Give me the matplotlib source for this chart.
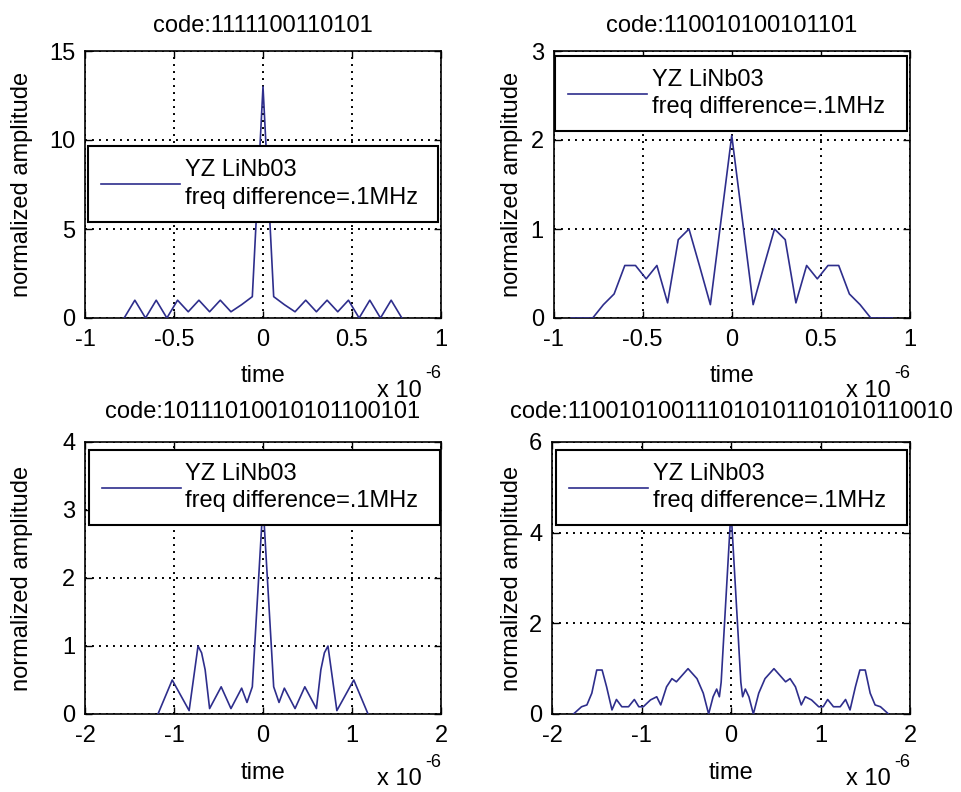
import matplotlib
matplotlib.use('Agg')
import numpy as np
import matplotlib.pyplot as plt
from matplotlib.ticker import FixedLocator, FuncFormatter
from matplotlib.transforms import offset_copy

plt.rcParams['font.family'] = ['Liberation Sans', 'DejaVu Sans']

# ---------------- data (time in microseconds) ----------------
titles = ['code:1111100110101',
          'code:110010100101101',
          'code:10111010010101100101',
          'code:110010100111010101101010110010']
legend_label = 'YZ LiNb03\nfreq difference=.1MHz'
x_label = 'time'
y_label = 'normalized amplitude'

t1 = [-0.78, -0.72, -0.66, -0.60, -0.54, -0.48, -0.42, -0.36, -0.30, -0.24, -0.18, -0.12, -0.06,
      0.0, 0.06, 0.12, 0.18, 0.24, 0.30, 0.36, 0.42, 0.48, 0.54, 0.60, 0.66, 0.72, 0.78]
a1 = [0, 1, 0, 1, 0, 1, 0.35, 1, 0.35, 1, 0.35, 0.75, 1.2,
      13, 1.2, 0.75, 0.35, 1, 0.35, 1, 0.35, 1, 0, 1, 0, 1, 0]

t2 = [-0.90, -0.84, -0.78, -0.72, -0.66, -0.60, -0.54, -0.48, -0.42, -0.36, -0.30, -0.24, -0.18, -0.12, -0.06,
      0.0, 0.06, 0.12, 0.18, 0.24, 0.30, 0.36, 0.42, 0.48, 0.54, 0.60, 0.66, 0.72, 0.78, 0.84, 0.90]
a2 = [0, 0, 0, 0.15, 0.27, 0.59, 0.59, 0.44, 0.59, 0.17, 0.88, 1.0, 0.58, 0.15, 1.1,
      2.05, 1.1, 0.15, 0.58, 1.0, 0.88, 0.17, 0.59, 0.44, 0.59, 0.59, 0.27, 0.15, 0, 0, 0]

t3 = [-1.18, -1.02, -0.83, -0.73, -0.69, -0.65, -0.60, -0.47, -0.36, -0.24, -0.18, -0.12,
      0.0, 0.12, 0.18, 0.24, 0.36, 0.47, 0.60, 0.65, 0.69, 0.73, 0.83, 1.02, 1.18]
a3 = [0, 0.5, 0.05, 1.0, 0.9, 0.65, 0.08, 0.4, 0.08, 0.38, 0.17, 0.4,
      3.1, 0.4, 0.17, 0.38, 0.08, 0.4, 0.08, 0.65, 0.9, 1.0, 0.05, 0.5, 0]

t4 = [-1.76, -1.67, -1.61, -1.555, -1.50, -1.44, -1.39, -1.33, -1.28, -1.22, -1.145, -1.08, -1.03,
      -0.98, -0.90, -0.83, -0.785, -0.72, -0.66, -0.61, -0.48, -0.38, -0.31, -0.25, -0.20, -0.16,
      -0.13, -0.11, 0.0, 0.11, 0.13, 0.16, 0.20, 0.25, 0.31, 0.38, 0.48, 0.61, 0.66, 0.72, 0.785,
      0.83, 0.90, 0.98, 1.03, 1.08, 1.145, 1.22, 1.28, 1.33, 1.39, 1.44, 1.50, 1.555, 1.61, 1.67, 1.76]
a4 = [0, 0.16, 0.2, 0.46, 0.97, 0.97, 0.6, 0.09, 0.32, 0.16, 0.16, 0.32, 0.16,
      0.16, 0.31, 0.38, 0.2, 0.6, 0.78, 0.71, 1.0, 0.78, 0.46, 0.0, 0.38, 0.55,
      0.38, 0.7, 4.5, 0.7, 0.38, 0.55, 0.38, 0.0, 0.46, 0.78, 1.0, 0.71, 0.78, 0.6, 0.2,
      0.38, 0.31, 0.16, 0.16, 0.32, 0.16, 0.16, 0.32, 0.09, 0.6, 0.97, 0.97, 0.46, 0.2, 0.16, 0]

xticks_top = [-1, -0.5, 0, 0.5, 1]
xticks_bottom = [-2, -1, 0, 1, 2]
yticks = [[0, 5, 10, 15], [0, 1, 2, 3], [0, 1, 2, 3, 4], [0, 2, 4, 6]]

series = [(t1, a1), (t2, a2), (t3, a3), (t4, a4)]
xticks_all = [xticks_top, xticks_top, xticks_bottom, xticks_bottom]

# ---------------- layout ----------------
W, H = 961, 792
fig = plt.figure(figsize=(W / 100, H / 100), dpi=100, facecolor='white')

def rect(l, t, r, b):
    return [l / W, 1 - b / H, (r - l) / W, (b - t) / H]

ax_rects = [rect(85, 51, 441, 318), rect(553.5, 51, 910, 318),
            rect(85, 442, 441, 714), rect(552, 442, 910, 714)]
# legend: (x0, ycenter, width) in axes fraction
leg_pos = [(0.008, 0.502, 0.984), (0.004, 0.840, 0.988),
           (0.010, 0.833, 0.987), (0.012, 0.833, 0.980)]
title_pad = [13.7, 13.7, 17.0, 17.0]
ylab_x = [-0.146, -0.086, -0.146, -0.080]
exp_y = [-79, -79, -71, -71]
sup_y = [-60, -60, -53, -53]

FS = 17
LINE_C = '#2e2e8c'

for i in range(4):
    ax = fig.add_axes(ax_rects[i])
    t, a = series[i]
    ln, = ax.plot(np.array(t) * 1e-6, a, color=LINE_C, linewidth=1.2, zorder=3)
    xt = xticks_all[i]
    ax.set_xlim(xt[0] * 1e-6, xt[-1] * 1e-6)
    ax.set_ylim(yticks[i][0], yticks[i][-1])
    ax.xaxis.set_major_locator(FixedLocator([v * 1e-6 for v in xt]))
    ax.xaxis.set_major_formatter(FuncFormatter(lambda v, p: '%g' % round(v * 1e6, 6)))
    ax.yaxis.set_major_locator(FixedLocator(yticks[i]))
    ax.yaxis.set_major_formatter(FuncFormatter(lambda v, p: '%g' % v))
    ax.grid(True, color='black', linestyle=(0, (1, 2.6)), linewidth=1.4)
    ax.set_axisbelow(True)
    ax.tick_params(direction='in', top=True, right=True, length=5, width=1,
                   labelsize=FS, colors='black')
    ax.tick_params(axis='x', pad=8)
    ax.tick_params(axis='y', pad=7)
    for s in ax.spines.values():
        s.set_linewidth(1.2)
        s.set_color('black')
    ax.set_title(titles[i], fontsize=FS, pad=title_pad[i])
    ax.set_xlabel(x_label, fontsize=FS)
    ax.xaxis.set_label_coords(0.5, -0.176)
    ax.set_ylabel(y_label, fontsize=FS)
    ax.yaxis.set_label_coords(ylab_x[i], 0.5)
    # exponent label in MATLAB style
    tr1 = offset_copy(ax.transAxes, fig=fig, x=-19, y=exp_y[i], units='dots')
    ax.text(1.0, 0.0, 'x 10', transform=tr1, ha='right', va='baseline', fontsize=FS)
    tr2 = offset_copy(ax.transAxes, fig=fig, x=-16, y=sup_y[i], units='dots')
    ax.text(1.0, 0.0, '-6', transform=tr2, ha='left', va='baseline', fontsize=13)
    x0, yc, w = leg_pos[i]
    leg = ax.legend([ln], [legend_label], loc='center', bbox_to_anchor=(x0, yc, w, 0),
                    mode='expand', borderaxespad=0, fancybox=False, framealpha=1,
                    edgecolor='black', handlelength=3.35, handletextpad=0.2,
                    borderpad=0.55, fontsize=FS, labelspacing=0.2)
    leg.get_frame().set_linewidth(1.5)
    for txt in leg.get_texts():
        txt.set_linespacing(1.3)

fig.savefig('out.png', dpi=100, facecolor='white')
